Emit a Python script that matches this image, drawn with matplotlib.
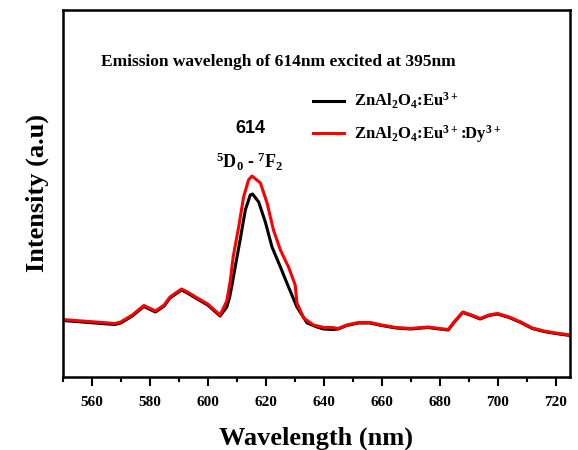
import numpy as np
import matplotlib
matplotlib.use("Agg")
import matplotlib.pyplot as plt
from matplotlib.ticker import MultipleLocator

plt.rcParams['font.family'] = ['Liberation Serif', 'DejaVu Serif']
plt.rcParams['font.weight'] = 'bold'
plt.rcParams['mathtext.default'] = 'regular'

# emission spectra (arbitrary units)
wl_red = [550, 568, 570, 574, 578, 582, 585, 587, 591, 593, 597, 600, 604.3, 606.6, 607.8, 608.8, 610.7, 612.4,
          614.1, 615.3, 618.2, 620.5, 622.7, 625.1, 627.9, 630.2, 630.8, 633.1, 636.5, 640, 643, 645, 648, 652,
          656, 660, 665, 670, 676, 680, 683, 685, 688, 691, 694, 697, 700, 704, 708, 712, 716, 720, 725]
i_red = [57.5, 53.5, 55, 62, 71.5, 66, 72, 80, 88, 85, 78, 73, 62, 76, 96, 120, 150, 180,
         197, 201, 194, 174, 147, 127, 110, 92, 74, 59, 52, 49.5, 49.5, 48.5, 52, 54.5,
         54.5, 52, 49.5, 48.5, 50, 48.5, 47.5, 55, 65, 62, 58.5, 62, 63.5, 60, 55, 49, 46, 44, 42]

wl_black = [550, 568, 570, 574, 578, 582, 585, 587, 591, 593, 597, 600, 604.3, 606.6, 607.6, 608.4, 609.5, 611.2,
            613, 614.7, 615.5, 617.6, 619.9, 622.2, 625.1, 627.9, 630.8, 634.3, 637.7, 640, 643, 645, 648, 652,
            656, 660, 665, 670, 676, 680, 683, 685, 688, 691, 694, 697, 700, 704, 708, 712, 716, 720, 725]
i_black = [56.5, 52.5, 54, 61, 70.5, 65, 71, 79, 87, 84, 77, 72, 61, 70, 80, 92, 110, 137,
           167, 182, 183, 175, 155, 130, 110, 90, 70, 54, 50, 48, 47.5, 48, 51.5, 54,
           54, 51.5, 49, 48, 49.5, 48, 47, 54.5, 64.5, 61.5, 58, 61.5, 63, 59.5, 54.5, 48.5, 45.5, 43.5, 41.5]

fig = plt.figure(figsize=(5.78, 4.5), dpi=100)
ax = fig.add_axes([62.7 / 578, 73 / 450, (570 - 62.7) / 578, (377 - 10) / 450])

ax.plot(wl_black, i_black, color='black', lw=2.2, label=r'ZnAl$_2$O$_4$:Eu$^{3+}$')
ax.plot(wl_red, i_red, color='red', lw=2.2, label=r'ZnAl$_2$O$_4$:Eu$^{3+}$:Dy$^{3+}$')

ax.set_xlim(550, 725)
ax.set_ylim(0, 367)
ax.set_xticks(np.arange(560, 721, 20))
ax.xaxis.set_minor_locator(MultipleLocator(10))
ax.tick_params(axis='x', which='major', direction='out', length=6.5, width=1.5, labelsize=11, pad=7)
ax.tick_params(axis='x', which='minor', direction='out', length=3.5, width=1.5)
ax.set_yticks([])
for s in ax.spines.values():
    s.set_linewidth(1.8)

ax.set_xlabel('Wavelength (nm)', fontsize=19, fontweight='bold', labelpad=13)
ax.set_ylabel('Intensity (a.u)', fontsize=19, fontweight='bold', labelpad=10)

ax.text(0.425, 0.858, 'Emission wavelengh of 614nm excited at 395nm', transform=ax.transAxes,
        ha='center', va='center', fontsize=12.5, fontweight='bold')
ax.text(614.7, 248, '614', ha='center', va='center', fontsize=13, fontweight='bold', family='Liberation Sans')
ax.text(614.7, 215, r'$^5$D$_0$ - $^7$F$_2$', ha='center', va='center', fontsize=13, fontweight='bold')

leg = ax.legend(loc='upper left', bbox_to_anchor=(0.464, 0.82), frameon=False, fontsize=12,
                handlelength=1.85, handletextpad=0.6, labelspacing=0.7)

fig.savefig('out.png', dpi=100)
